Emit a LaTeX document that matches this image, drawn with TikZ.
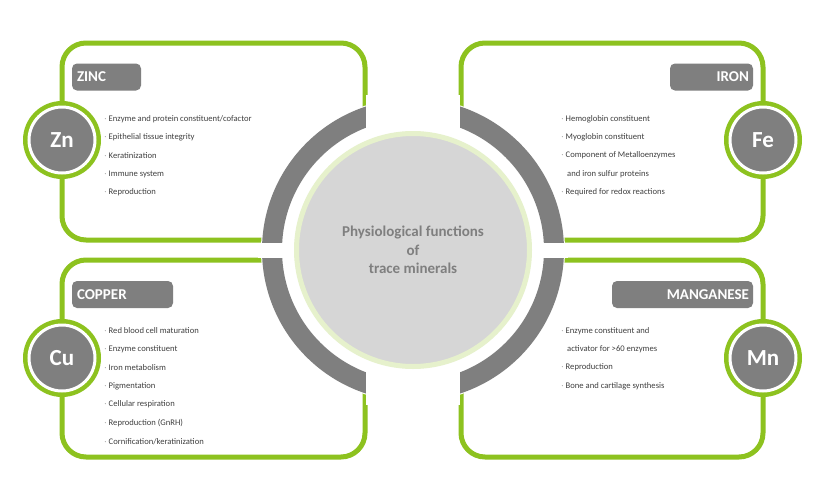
\documentclass[tikz,border=0pt]{standalone}
\usepackage{fontspec}
\setmainfont{Carlito}
\definecolor{grn}{HTML}{8DC21F}
\definecolor{gry}{HTML}{7F7F7F}
\definecolor{cgry}{HTML}{D6D6D6}
\definecolor{lgrn}{HTML}{E6F1CC}
\definecolor{txt}{HTML}{404040}
\begin{document}
\begin{tikzpicture}[x=1pt,y=-1pt,
  panel/.style={draw=grn,line width=5pt,rounded corners=24pt},
  tag/.style={fill=gry,rounded corners=5pt,text=white,font=\bfseries\fontsize{15}{16}\selectfont,inner sep=0pt},
  badge/.style={circle,fill=gry,draw=white,line width=3pt,minimum size=66pt,text=white,font=\bfseries\fontsize{23}{24}\selectfont},
  ring/.style={circle,fill=grn,minimum size=78pt,inner sep=0pt},
  item/.style={anchor=west,text=txt,font=\fontsize{8.6}{9}\selectfont,inner sep=0pt}]
\useasboundingbox (0,0) rectangle (828,501);
\fill[white] (0,0) rectangle (828,501);
% panels
\draw[panel] (62,43) rectangle (365,240);
\draw[panel] (461,43) rectangle (763,240);
\draw[panel] (62,260) rectangle (365,457);
\draw[panel] (461,260) rectangle (763,457);
% centre ring
\fill[white] (413,250) circle (152);
\fill[gry,even odd rule] (413,250) circle (151) (413,250) circle (131);
\fill[white] (366,95) rectangle (460,405);
\fill[white] (258,243) rectangle (568,258);
\node[circle,fill=cgry,draw=lgrn,line width=5pt,minimum size=233pt,inner sep=0pt,align=center,text=gry,font=\bfseries\fontsize{15}{18.5}\selectfont] (c) at (413,250) {Physiological functions\\of\\trace minerals};
% tags
\node[tag,minimum width=69pt,minimum height=27pt,text width=59pt,align=left] (zinc) at (106.5,77) {ZINC};
\node[tag,minimum width=83pt,minimum height=27pt,text width=75pt,align=right] (iron) at (711.5,77) {IRON};
\node[tag,minimum width=101pt,minimum height=27pt,text width=91pt,align=left] (copper) at (122.5,294.5) {COPPER};
\node[tag,minimum width=141pt,minimum height=27pt,text width=133pt,align=right] (mn) at (682.5,294.5) {MANGANESE};
% badges
\foreach \n/\x/\y/\t in {zn/62/140/Zn, fe/763/140/Fe, cu/62/358/Cu, mnb/763/358/Mn}{
  \node[ring] (r\n) at (\x,\y) {};
  \node[badge] (\n) at (\x,\y) {\t};
}
% items
\foreach \t [count=\i] in {Enzyme and protein constituent/cofactor, Epithelial tissue integrity, Keratinization, Immune system, Reproduction}
  \node[item] (z\i) at (104,100.5+18.4*\i) {$\cdot$ \t};
\node[item] (f1) at (561,118.9) {$\cdot$ Hemoglobin constituent};
\node[item] (f2) at (561,137.3) {$\cdot$ Myoglobin constituent};
\node[item] (f3) at (561,155.7) {$\cdot$ Component of Metalloenzymes};
\node[item] (f4) at (567,174.1) {and iron sulfur proteins};
\node[item] (f5) at (561,192.5) {$\cdot$ Required for redox reactions};
\foreach \t [count=\i] in {Red blood cell maturation, Enzyme constituent, Iron metabolism, Pigmentation, Cellular respiration, Reproduction (GnRH), Cornification/keratinization}
  \node[item] (k\i) at (104,312.5+18.4*\i) {$\cdot$ \t};
\node[item] (m1) at (561,330.9) {$\cdot$ Enzyme constituent and};
\node[item] (m2) at (567,349.3) {activator for >60 enzymes};
\node[item] (m3) at (561,367.7) {$\cdot$ Reproduction};
\node[item] (m4) at (561,386.1) {$\cdot$ Bone and cartilage synthesis};
\end{tikzpicture}
\end{document}
